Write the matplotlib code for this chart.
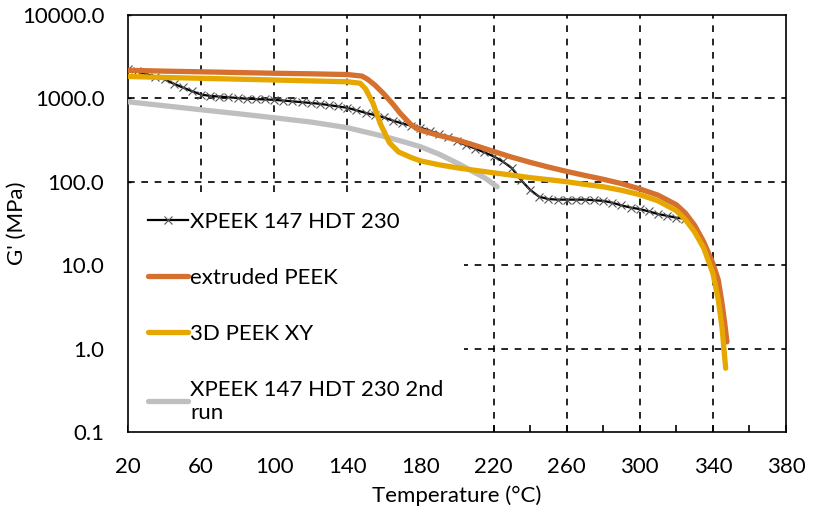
import matplotlib
matplotlib.use("Agg")
import matplotlib.pyplot as plt
from matplotlib.ticker import FixedLocator, FuncFormatter, NullLocator

plt.rcParams['font.family'] = ['Lato', 'DejaVu Sans']

# XPEEK 147 HDT 230 (first run), read every 5 degC
t_x1 = [20, 25, 30, 35, 40, 45, 50, 55, 60, 65, 70, 75, 80, 85, 90, 95, 100,
        105, 110, 115, 120, 125, 130, 135, 140, 145, 150, 155, 160, 165, 170,
        175, 180, 185, 190, 195, 200, 205, 210, 215, 220, 225, 230, 235, 240,
        245, 250, 255, 260, 265, 270, 275, 280, 285, 290, 295, 300, 305, 310,
        315, 320, 325]
g_x1 = [2250, 2100, 1950, 1820, 1690, 1500, 1350, 1220, 1110, 1070, 1050, 1030,
        1010, 990, 980, 970, 960, 940, 920, 900, 880, 860, 830, 800, 770, 720,
        670, 630, 590, 540, 500, 470, 445, 410, 375, 340, 305, 275, 250, 225,
        202, 175, 146, 105, 80, 66, 62, 61, 61, 61, 61, 60, 59, 56, 52, 49,
        47, 44, 41, 39, 37, 36]

# extruded PEEK
t_ext = [20, 40, 60, 80, 100, 120, 140, 148, 151, 155, 160, 165, 169, 175, 180,
         190, 200, 210, 220, 230, 240, 250, 260, 270, 280, 290, 300, 310, 320,
         325, 330, 335, 340, 343, 345, 346.5, 347.7]
g_ext = [2170, 2120, 2080, 2040, 2000, 1970, 1930, 1850, 1700, 1450, 1130, 850,
         660, 480, 415, 360, 318, 272, 231, 197, 171, 150, 133, 119, 107, 95,
         82, 69, 53, 42, 30, 19, 10.5, 6.6, 3.5, 2.0, 1.2]

# 3D PEEK XY
t_3d = [20, 40, 60, 80, 100, 120, 140, 147, 150, 154, 158, 163, 168, 175, 180,
        190, 200, 210, 220, 230, 240, 250, 260, 270, 280, 290, 300, 310, 320,
        325, 330, 335, 340, 343, 345, 347]
g_3d = [1830, 1780, 1740, 1700, 1660, 1620, 1580, 1520, 1300, 880, 500, 295,
        228, 195, 178, 160, 147, 137, 128, 120, 112, 106, 100, 93, 87, 79, 70,
        59, 45, 35, 25, 16, 8, 3.8, 1.8, 0.58]

# XPEEK 147 HDT 230, 2nd run
t_x2 = [20, 40, 60, 80, 100, 120, 140, 160, 170, 180, 190, 200, 210, 215, 222]
g_x2 = [910, 815, 730, 655, 585, 520, 445, 350, 305, 263, 215, 168, 128, 112, 87]

x_ticks = [20, 60, 100, 140, 180, 220, 260, 300, 340, 380]
y_ticks = [0.1, 1, 10, 100, 1000, 10000]

fig = plt.figure(figsize=(8.15, 5.16), dpi=100)
ax = fig.add_axes([0.157, 0.163, 0.8074, 0.808])

ax.plot(t_x1, g_x1, color='black', lw=1.6, marker='x', ms=6, mew=0.8,
        mec='#555555', label='XPEEK 147 HDT 230', zorder=3)
ax.plot(t_ext, g_ext, color='#D5702E', lw=3.8, solid_capstyle='round',
        label='extruded PEEK', zorder=4)
ax.plot(t_3d, g_3d, color='#E6A800', lw=3.8, solid_capstyle='round',
        label='3D PEEK XY', zorder=5)
ax.plot(t_x2, g_x2, color='#BFBFBF', lw=3.8, solid_capstyle='round',
        label='XPEEK 147 HDT 230 2nd\nrun', zorder=3)

ax.set_yscale('log')
ax.set_xlim(20, 380)
ax.set_ylim(0.1, 10000)
ax.yaxis.set_major_locator(FixedLocator(y_ticks))
ax.yaxis.set_minor_locator(NullLocator())
ax.yaxis.set_major_formatter(FuncFormatter(lambda v, p: '%.1f' % v))
ax.xaxis.set_major_locator(FixedLocator(x_ticks))
ax.xaxis.set_minor_locator(FixedLocator(list(range(20, 381, 20))))

for x in x_ticks[1:-1]:
    ax.axvline(x, color='black', lw=1.2, ls=(0, (4, 4)), zorder=1)
for y in y_ticks[1:-1]:
    ax.axhline(y, color='black', lw=1.2, ls=(0, (4, 4)), zorder=1)

ax.tick_params(axis='x', which='both', direction='in', length=5, width=1.2,
               labelsize=16, pad=18)
ax.tick_params(axis='y', which='both', direction='in', length=2, width=1,
               labelsize=16, pad=17)
for s in ax.spines.values():
    s.set_linewidth(1.2)

ax.set_xlabel('Temperature (°C)', fontsize=16, labelpad=6)
ax.set_ylabel("G' (MPa)", fontsize=16)
ax.yaxis.set_label_coords(-0.153, 0.5)

leg = ax.legend(loc='lower left', bbox_to_anchor=(0.0, -0.026), fontsize=16,
                frameon=True, fancybox=False, framealpha=1, facecolor='white',
                edgecolor='none', labelspacing=1.62, handlelength=1.8,
                handletextpad=0.1, borderpad=0.9, borderaxespad=0.0)
leg.set_zorder(2)

fig.savefig('out.png', dpi=100)
